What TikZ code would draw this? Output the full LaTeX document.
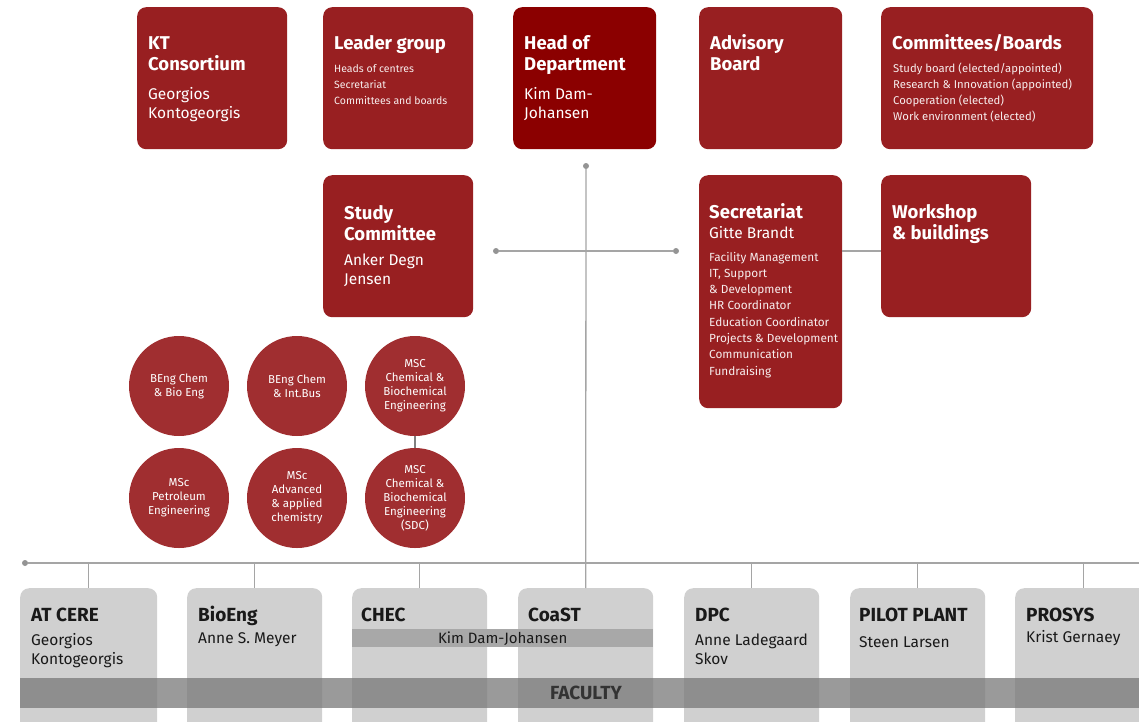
\documentclass[tikz,border=0pt]{standalone}
\usepackage{fontspec}
\setmainfont{Fira Sans}
\begin{document}
\definecolor{boxred}{RGB}{152,31,33}
\definecolor{headred}{RGB}{139,0,0}
\definecolor{circred}{RGB}{160,46,48}
\definecolor{boxgray}{RGB}{208,208,208}
\definecolor{bargray}{RGB}{168,168,168}
\definecolor{facgray}{RGB}{123,123,123}
\definecolor{linegray}{RGB}{165,165,165}
\definecolor{darktext}{RGB}{25,25,25}
% multi-line text nodes are anchored at the baseline of their last line
\begin{tikzpicture}[x=1pt,y=-1pt,
  redbox/.style={fill=boxred,rounded corners=9pt,inner sep=0,anchor=north west,minimum width=150,minimum height=142},
  graybox/.style={fill=boxgray,rounded corners=9pt,inner sep=0,anchor=north west,minimum width=136,minimum height=150},
  ttl/.style={anchor=base west,inner sep=0,align=left,text=white,font=\fontsize{18.5}{21}\selectfont\bfseries},
  sub/.style={anchor=base west,inner sep=0,align=left,text=white,font=\fontsize{15.5}{19}\selectfont},
  small/.style={anchor=base west,inner sep=0,align=left,text=white!92!boxred,font=\fontsize{10.5}{16.3}\selectfont},
  btl/.style={ttl,text=darktext,font=\fontsize{19}{21}\selectfont\bfseries},
  bsub/.style={sub,text=darktext},
  prog/.style={circle,fill=circred,minimum size=100,inner sep=0,align=center,text=white,font=\fontsize{11.5}{14}\selectfont},
  link/.style={draw=linegray,line width=1.3pt},
  dot/.style={circle,fill=linegray!90!black,inner sep=0,minimum size=6}
]
\clip (0,0) rectangle (1139,721);

% ---- junction dots ----
\node[dot] (topdot) at (586,166) {};
\node[dot] (ldot) at (496,251) {};
\node[dot] (rdot) at (676,251) {};
\node[dot] (busdot) at (25,563) {};
\coordinate (busend) at (1145,563);

% ---- top row ----
\node[redbox] (kt) at (137,7) {};
\node[redbox] (leader) at (323,7) {};
\node[redbox,fill=headred,minimum width=143] (head) at (513,7) {};
\node[redbox,minimum width=143] (advisory) at (699,7) {};
\node[redbox,minimum width=212] (committees) at (881,7) {};

% ---- second row ----
\node[redbox] (study) at (323,175) {};
\node[redbox,minimum width=143,minimum height=233] (secr) at (699,175) {};
\node[redbox] (workshop) at (881,175) {};
\coordinate (wlink) at (842,251);

% ---- centres ----
\node[graybox,minimum width=137] (atcere) at (20,588) {};
\node[graybox,minimum width=135] (bioeng) at (187,588) {};
\node[graybox,minimum width=135] (chec) at (352,588) {};
\node[graybox,minimum width=135] (coast) at (518,588) {};
\node[graybox,minimum width=135] (dpc) at (684,588) {};
\node[graybox,minimum width=135] (pilot) at (850,588) {};
\node[graybox,minimum width=136] (prosys) at (1015,588) {};

% ---- links ----
\draw[link] (topdot) -- (coast.north);
\draw[link] (ldot) -- (rdot);
\draw[link] (busdot) -- (busend);
\draw[link] (wlink) -- (wlink -| workshop.west);
\foreach \b in {atcere,bioeng,chec,dpc,pilot,prosys}
  \draw[link] (\b.north |- busdot) -- (\b.north);

% ---- study programmes ----
\node[prog] (beng1) at (179,386) {BEng Chem\\\& Bio Eng};
\node[prog] (beng2) at (297,386) {BEng Chem\\\& Int.Bus};
\node[prog] (msc1) at (415,386) {MSC\\Chemical \&\\Biochemical\\Engineering};
\node[prog] (msc2) at (179,498) {MSc\\Petroleum\\Engineering};
\node[prog] (msc3) at (297,498) {MSc\\Advanced\\\& applied\\chemistry};
\node[prog] (msc4) at (415,498) {MSC\\Chemical \&\\Biochemical\\Engineering\\(SDC)};
\draw[draw=gray,line width=1.5pt] (msc1) -- (msc4);

% ---- texts, top row ----
\node[ttl] (t-kt) at (148,70) {KT\\Consortium};
\node[sub] (s-kt) at (148,118) {Georgios\\Kontogeorgis};
\node[ttl] (t-leader) at (334,49) {Leader group};
\node[small] (s-leader) at (334,104.6) {Heads of centres\\Secretariat\\Committees and boards};
\node[ttl] (t-head) at (524,70) {Head of\\Department};
\node[sub] (s-head) at (524,118) {Kim Dam-\\Johansen};
\node[ttl] (t-adv) at (710,70) {Advisory\\Board};
\node[ttl] (t-com) at (892,49) {Committees/Boards};
\node[small,font=\fontsize{11.3}{16.3}\selectfont] (s-com) at (893,120.9) {Study board (elected/appointed)\\Research \& Innovation (appointed)\\Cooperation (elected)\\Work environment (elected)};

% ---- texts, second row ----
\node[ttl] (t-study) at (344,240) {Study\\Committee};
\node[sub] (s-study) at (344,284) {Anker Degn\\Jensen};
\node[ttl] (t-secr) at (709,218) {Secretariat};
\node[sub] (n-secr) at (709,238) {Gitte Brandt};
\node[small,font=\fontsize{11.8}{16.3}\selectfont] (s-secr) at (709,375.1) {Facility Management\\IT, Support\\\& Development\\HR Coordinator\\Education Coordinator\\Projects \& Development\\Communication\\Fundraising};
\node[ttl] (t-work) at (892,239) {Workshop\\\& buildings};

% ---- shared bars ----
\node[fill=bargray,inner sep=0,minimum width=301,minimum height=18,anchor=north west,
      font=\fontsize{15}{18}\selectfont,text=darktext] (kdj) at (352,629) {Kim Dam-Johansen};
\node[fill=facgray,fill opacity=0.77,text opacity=1,inner sep=0,minimum width=1130,minimum height=30,
      anchor=north west] (facbar) at (20,678) {};
\node[font=\fontsize{19}{21}\selectfont\bfseries,text=black!80,inner sep=0] (faculty) at (586,693) {FACULTY};

% ---- texts, centres ----
\node[btl] (t-atcere) at (31,621) {AT CERE};
\node[bsub] (s-atcere) at (31,664) {Georgios\\Kontogeorgis};
\node[btl] (t-bioeng) at (198,621) {BioEng};
\node[bsub] (s-bioeng) at (198,643) {Anne S. Meyer};
\node[btl] (t-chec) at (361,621) {CHEC};
\node[btl] (t-coast) at (528,621) {CoaST};
\node[btl] (t-dpc) at (695,621) {DPC};
\node[bsub] (s-dpc) at (695,664) {Anne Ladegaard\\Skov};
\node[btl] (t-pilot) at (859,621) {PILOT PLANT};
\node[bsub] (s-pilot) at (859,647) {Steen Larsen};
\node[btl] (t-prosys) at (1026,621) {PROSYS};
\node[bsub] (s-prosys) at (1026,642) {Krist Gernaey};
\end{tikzpicture}
\end{document}
